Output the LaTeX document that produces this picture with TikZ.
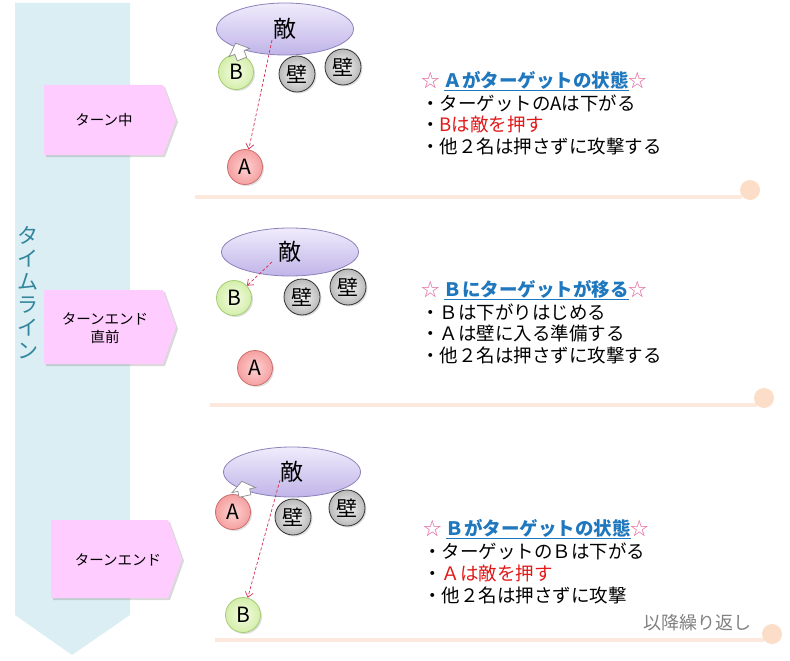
\documentclass[tikz,border=0pt]{standalone}
\usepackage{fontspec}
\setmainfont{Noto Sans CJK JP}
\usetikzlibrary{arrows.meta,shadows,shapes.geometric}
\definecolor{bandc}{RGB}{219,238,244}
\definecolor{pinkc}{RGB}{255,204,255}
\definecolor{tealc}{RGB}{49,133,156}
\definecolor{ellTop}{RGB}{240,236,252}
\definecolor{ellBot}{RGB}{192,180,232}
\definecolor{ellBd}{RGB}{140,130,185}
\definecolor{aIn}{RGB}{255,210,210}
\definecolor{aOut}{RGB}{245,160,160}
\definecolor{aBd}{RGB}{205,110,110}
\definecolor{bIn}{RGB}{244,252,228}
\definecolor{bOut}{RGB}{212,238,170}
\definecolor{bBd}{RGB}{165,205,115}
\definecolor{wIn}{RGB}{248,248,248}
\definecolor{wOut}{RGB}{185,185,185}
\definecolor{wBd}{RGB}{50,50,50}
\definecolor{sepc}{RGB}{252,232,220}
\definecolor{sepd}{RGB}{252,222,200}
\definecolor{titlec}{RGB}{31,119,190}
\definecolor{starc}{RGB}{228,105,160}
\definecolor{redc}{RGB}{225,25,25}
\definecolor{grayc}{RGB}{128,128,128}
\definecolor{dashc}{RGB}{215,45,80}
\tikzset{
  pinkbox/.style={fill=pinkc, drop shadow={opacity=0.3,shadow xshift=2pt,shadow yshift=-2pt}},
  boxlabel/.style={font=\fontsize{14.5}{18}\selectfont, align=center, inner sep=0pt},
  enemy/.style={ellipse, draw=ellBd, line width=0.8pt, top color=ellTop, bottom color=ellBot, minimum width=137pt, minimum height=52pt, inner sep=0pt, font=\fontsize{23}{23}\selectfont},
  pc/.style={circle, minimum size=35pt, inner sep=0pt, line width=0.8pt, font=\fontsize{21}{21}\selectfont, drop shadow={opacity=0.25,shadow xshift=1.5pt,shadow yshift=-1.5pt}},
  pa/.style={pc, draw=aBd, inner color=aIn, outer color=aOut},
  pb/.style={pc, draw=bBd, inner color=bIn, outer color=bOut},
  wall/.style={pc, minimum size=36pt, draw=wBd, inner color=wIn, outer color=wOut, font=\fontsize{21}{21}\selectfont},
  dasharrow/.style={draw=dashc, line width=0.7pt, dash pattern=on 3pt off 2pt, -{Straight Barb[length=5pt,width=8pt]}},
  blockarr/.style={fill=white, draw=black!45, line width=0.7pt},
  sepline/.style={draw=sepc, line width=4pt},
  sepdot/.style={fill=sepd},
  titletxt/.style={anchor=west, inner sep=0pt, font=\fontsize{18.5}{18.5}\selectfont\bfseries, text=titlec},
  txt/.style={anchor=west, inner sep=0pt, font=\fontsize{18.5}{18.5}\selectfont},
}
\begin{document}
\begin{tikzpicture}[x=1pt,y=-1pt]
\useasboundingbox (0,0) rectangle (790,661);
% timeline band
\fill[bandc] (15,3) -- (130,3) -- (130,615) -- (72,655) -- (15,615) -- cycle;
\node[font=\fontsize{21}{23}\selectfont, text=tealc, align=center, inner sep=0pt] (tl) at (28,293) {タ\\イ\\ム\\ラ\\イ\\ン};
% pink labels
\path[pinkbox] (44,85) -- (163,85) -- (176,120) -- (163,155) -- (44,155) -- cycle;
\node[boxlabel] (l1) at (104,120) {ターン中};
\path[pinkbox] (44,290) -- (163,290) -- (176,327) -- (163,364) -- (44,364) -- cycle;
\node[boxlabel] (l2) at (105,328) {ターンエンド\\直前};
\path[pinkbox] (51,520) -- (168,520) -- (182,559) -- (168,598) -- (51,598) -- cycle;
\node[boxlabel] (l3) at (118,560) {ターンエンド};

% ===== section 1
\node[enemy] (e1) at (285,29) {敵};
\node[pb] (b1) at (236,72) {B};
\node[wall] (w1a) at (297,74) {壁};
\node[wall] (w1b) at (343,67) {壁};
\node[pa] (a1) at (245,167) {A};
\draw[blockarr, shift={(242,59)}, rotate=22] (-5,0) -- (5,0) -- (5,-7) -- (11,-7) -- (0,-17) -- (-11,-7) -- (-5,-7) -- cycle;
\coordinate (s1) at (272,40);
\draw[dasharrow] (s1) -- (a1);
\draw[sepline] (195,197) -- (742,197);
\fill[sepdot] (750,190) circle (10);
\node[titletxt] (t1) at (421,81) {{\mdseries\color{starc}☆} \underline{Ａがターゲットの状態}{\mdseries\color{starc}☆}};
\node[txt] (t1a) at (421,103) {・ターゲットのAは下がる};
\node[txt] (t1b) at (421,124) {・{\color{redc}Bは敵を押す}};
\node[txt] (t1c) at (421,146) {・他２名は押さずに攻撃する};

% ===== section 2
\node[enemy, minimum height=48pt] (e2) at (290,252) {敵};
\node[pb] (b2) at (234,298) {B};
\node[wall] (w2a) at (302,297) {壁};
\node[wall] (w2b) at (348,287) {壁};
\node[pa] (a2) at (255,368) {A};
\coordinate (s2) at (272,262);
\draw[dasharrow] (s2) -- (b2);
\draw[sepline] (210,405) -- (757,405);
\fill[sepdot] (764,398) circle (10);
\node[titletxt] (t2) at (421,290) {{\mdseries\color{starc}☆} \underline{Ｂにターゲットが移る}{\mdseries\color{starc}☆}};
\node[txt] (t2a) at (421,312) {・Ｂは下がりはじめる};
\node[txt] (t2b) at (421,333) {・Ａは壁に入る準備する};
\node[txt] (t2c) at (421,355) {・他２名は押さずに攻撃する};

% ===== section 3
\node[enemy, minimum height=50pt] (e3) at (292,472) {敵};
\node[pa] (a3) at (233,512) {A};
\node[wall] (w3a) at (293,517) {壁};
\node[wall] (w3b) at (347,508) {壁};
\node[pb] (b3) at (243,615) {B};
\draw[blockarr, shift={(245,496)}, rotate=12] (-6,0) -- (6,0) -- (6,-6) -- (12,-6) -- (0,-15) -- (-12,-6) -- (-6,-6) -- cycle;
\coordinate (s3) at (280,480);
\draw[dasharrow] (s3) -- (b3);
\draw[sepline] (215,640) -- (764,640);
\fill[sepdot] (772,634) circle (10);
\node[titletxt] (t3) at (423,529) {{\mdseries\color{starc}☆} \underline{Ｂがターゲットの状態}{\mdseries\color{starc}☆}};
\node[txt] (t3a) at (423,551) {・ターゲットのＢは下がる};
\node[txt] (t3b) at (423,573) {・{\color{redc}Ａは敵を押す}};
\node[txt] (t3c) at (423,595) {・他２名は押さずに攻撃};
\node[anchor=east, inner sep=0pt, font=\fontsize{18}{18}\selectfont, text=grayc] (rep) at (752,623) {以降繰り返し};
\end{tikzpicture}
\end{document}
